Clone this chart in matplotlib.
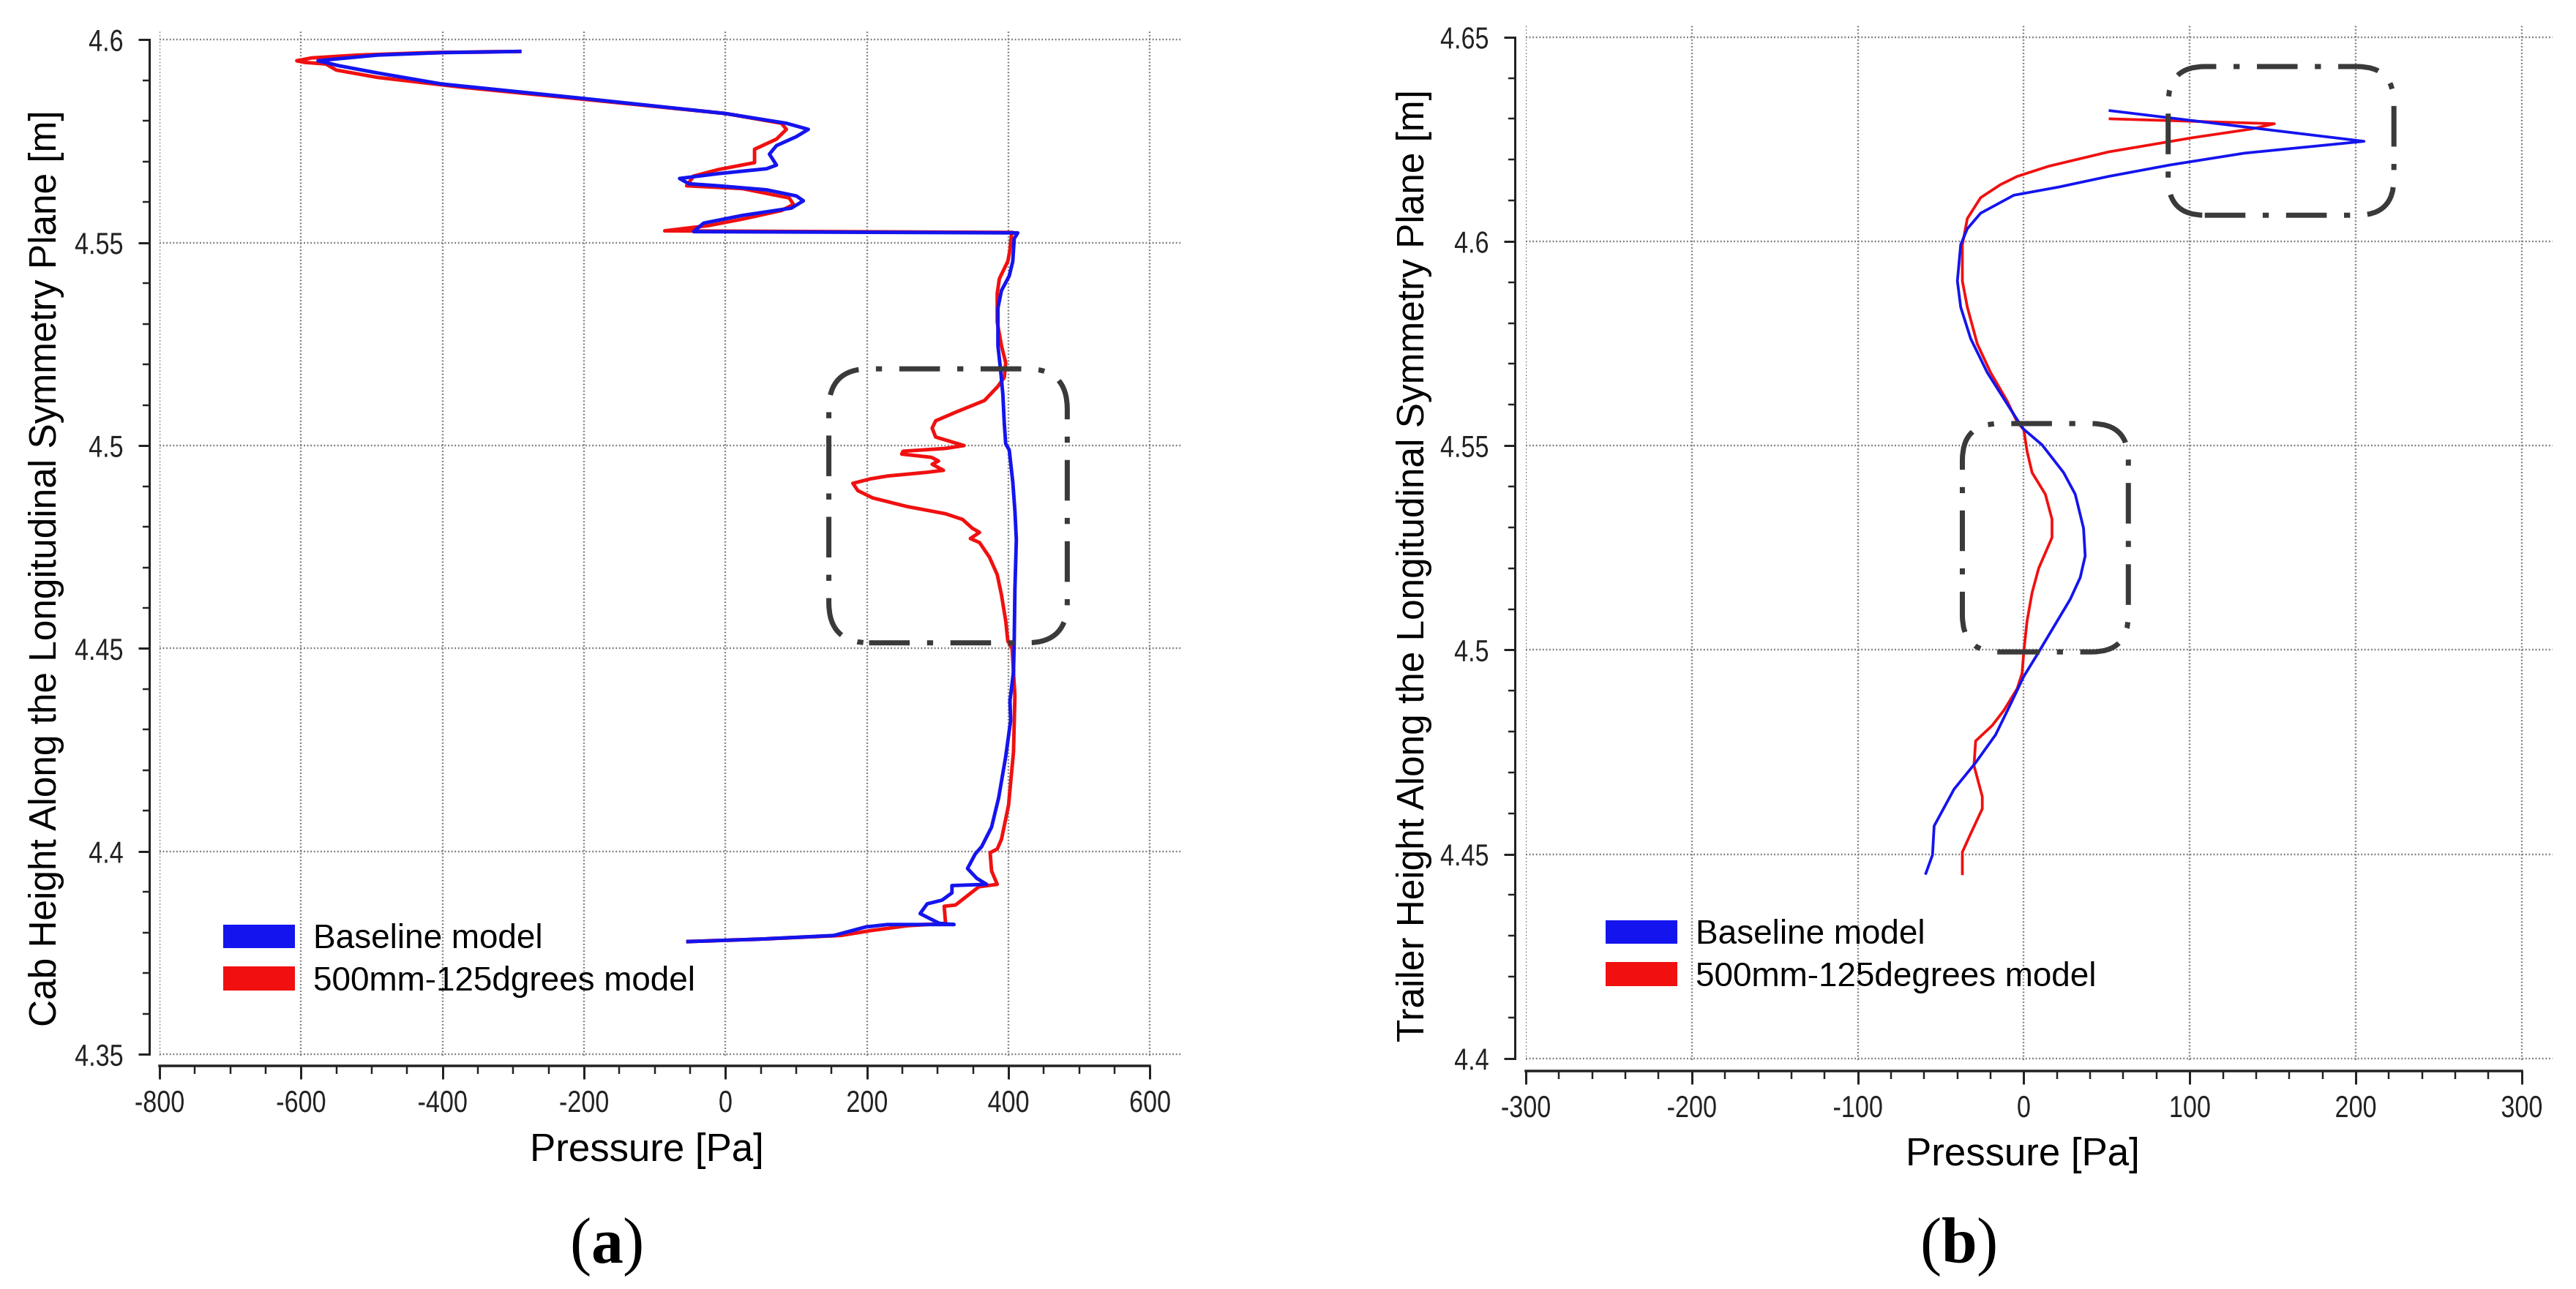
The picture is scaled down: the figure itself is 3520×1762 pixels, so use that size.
import matplotlib
matplotlib.use("Agg")
import matplotlib.pyplot as plt
from matplotlib import font_manager
from matplotlib.patches import FancyBboxPatch, Patch
from matplotlib.patheffects import AbstractPathEffect
from matplotlib.transforms import Affine2D
from matplotlib.ticker import MultipleLocator, FixedLocator, FuncFormatter

# ---------------- data ----------------
# (a) cab, baseline model
cab_base_p = [-291, -402, -492, -547, -576, -547, -492, -402, -200, 0, 86, 117, 100, 72, 62, 72, 58,
              -10, -65, -52, -10, 58, 100, 110, 93, 24, -31, -45, 413, 408, 406, 401, 390, 385, 385,
              389, 392, 394, 396, 401, 406, 409, 411, 409, 408, 407, 402, 403, 396, 386, 376, 362,
              353, 342, 355, 369, 320, 320, 306, 285, 275, 285, 302, 323, 229, 198, 153, 48, -53]
cab_base_h = [4.5971, 4.5968, 4.5962, 4.5953, 4.5948, 4.5936, 4.5918, 4.5891, 4.5855, 4.5818, 4.5794,
              4.5779, 4.5761, 4.5739, 4.5718, 4.5691, 4.5682, 4.5670, 4.5658, 4.5645, 4.5640, 4.5630,
              4.5615, 4.5603, 4.5585, 4.5567, 4.5548, 4.5527, 4.5524, 4.5510, 4.5454, 4.5418, 4.5382,
              4.5339, 4.5246, 4.5182, 4.5125, 4.5054, 4.5004, 4.4989, 4.4910, 4.4839, 4.4768, 4.4646,
              4.4518, 4.4443, 4.4371, 4.4323, 4.4234, 4.4132, 4.4060, 4.4012, 4.3994, 4.3958, 4.3934,
              4.3919, 4.3916, 4.3898, 4.3880, 4.3871, 4.3847, 4.3838, 4.3823, 4.3820, 4.3820, 4.3814,
              4.3793, 4.3784, 4.3778]
# (a) cab, 500mm-125 degrees model
cab_mod_p = [-291, -420, -520, -585, -606, -595, -565, -550, -492, -368, -200, 0, 79, 86, 72, 41, 41,
             -10, -45, -55, 24, 90, 96, 79, 24, -24, -86, 406, 404, 402, 399, 387, 384, 384, 390, 396,
             394, 385, 366, 325, 297, 292, 297, 337, 311, 251, 249, 291, 301, 292, 308, 284, 229, 205,
             180, 187, 208, 256, 311, 335, 349, 359, 346, 359, 373, 384, 390, 396, 399, 405, 409, 407,
             400, 390, 384, 374, 376, 384, 358, 325, 309, 311, 257, 205, 163, 48, -53]
cab_mod_h = [4.5971, 4.5968, 4.5962, 4.5955, 4.5948, 4.5944, 4.5940, 4.5925, 4.5907, 4.5882, 4.5853,
             4.5818, 4.5794, 4.5779, 4.5755, 4.5730, 4.5697, 4.5680, 4.5664, 4.5640, 4.5633, 4.5610,
             4.5594, 4.5579, 4.5558, 4.5542, 4.5529, 4.5525, 4.5518, 4.5482, 4.5454, 4.5411, 4.5375,
             4.5304, 4.5246, 4.5204, 4.5168, 4.5146, 4.5111, 4.5082, 4.5061, 4.5043, 4.5021, 4.5000,
             4.4993, 4.4986, 4.4979, 4.4971, 4.4962, 4.4954, 4.4939, 4.4934, 4.4925, 4.4918, 4.4907,
             4.4889, 4.4871, 4.4850, 4.4832, 4.4818, 4.4796, 4.4786, 4.4771, 4.4761, 4.4725, 4.4682,
             4.4632, 4.4568, 4.4518, 4.4500, 4.4383, 4.4245, 4.4114, 4.4030, 4.4006, 4.3997, 4.3952,
             4.3919, 4.3913, 4.3868, 4.3865, 4.3823, 4.3817, 4.3805, 4.3793, 4.3784, 4.3778]

# (b) trailer, baseline model
trl_base_p = [52, 205, 133, 88, 51, 21, -6, -26, -34, -38, -40, -38, -32, -22, -10, -2, 0, 11, 24,
              31, 36, 37, 34, 28, 18, 8, 0, -8, -17, -29, -42, -54, -55, -59]
trl_base_h = [4.6320, 4.6245, 4.6216, 4.6187, 4.6159, 4.6133, 4.6113, 4.6069, 4.6031, 4.5992,
              4.5903, 4.5839, 4.5762, 4.5679, 4.5602, 4.5551, 4.5540, 4.5502, 4.5434, 4.5381, 4.5298,
              4.5230, 4.5177, 4.5124, 4.5056, 4.4988, 4.4935, 4.4867, 4.4792, 4.4724, 4.4659, 4.4569,
              4.4498, 4.4453]
# (b) trailer, 500mm-125 degrees model
trl_mod_p = [52, 151, 137, 102, 51, 15, -4, -14, -26, -34, -37, -37, -34, -28, -20, -10, -4, 0, 2, 5,
             13, 17, 17, 9, 5, 2, 0, -1, -4, -12, -19, -29, -30, -25, -25, -32, -37, -37]
trl_mod_h = [4.6300, 4.6288, 4.6275, 4.6254, 4.6219, 4.6184, 4.6159, 4.6139, 4.6107, 4.6056,
             4.5992, 4.5903, 4.5839, 4.5749, 4.5679, 4.5609, 4.5558, 4.5539, 4.5486, 4.5434, 4.5381,
             4.5320, 4.5275, 4.5200, 4.5140, 4.5071, 4.4996, 4.4943, 4.4905, 4.4852, 4.4815, 4.4777,
             4.4717, 4.4641, 4.4611, 4.4550, 4.4505, 4.4452]

# highlighted regions [p_min, p_max, h_min, h_max]
cab_regions = [[146, 483, 4.4514, 4.5189]]
trl_regions = [[87, 223, 4.6064, 4.6428], [-37, 63, 4.4995, 4.5554]]

cab_xticks = [-800, -600, -400, -200, 0, 200, 400, 600]
cab_yticks = [4.35, 4.4, 4.45, 4.5, 4.55, 4.6]
trl_xticks = [-300, -200, -100, 0, 100, 200, 300]
trl_yticks = [4.4, 4.45, 4.5, 4.55, 4.6, 4.65]

series_labels = ["Baseline model", ["500mm-125dgrees model", "500mm-125degrees model"]]

# ---------------- fonts ----------------
names = {f.name for f in font_manager.fontManager.ttflist}
SANS = "Liberation Sans" if "Liberation Sans" in names else "DejaVu Sans"
NARROW = None
for cand in ("Liberation Sans Narrow", "Arial Narrow", "Nimbus Sans Narrow"):
    if cand in names:
        NARROW = cand
        break
TICKFONT = NARROW if NARROW else SANS
SQUEEZE = 1.0 if NARROW else 0.82   # emulate a narrow face when none is installed
SERIF = "Liberation Serif" if "Liberation Serif" in names else "DejaVu Serif"
plt.rcParams["font.family"] = [TICKFONT, "DejaVu Sans"]
plt.rcParams["lines.scale_dashes"] = False
plt.rcParams["mathtext.fontset"] = "custom"
plt.rcParams["mathtext.rm"] = SERIF
plt.rcParams["mathtext.bf"] = SERIF + ":bold"

BLUE = "#1414ee"
RED = "#f01010"
GRID = "#7a7a7a"
BOXC = "#3a3a3a"

W, H, DPI = 3520, 1762, 100
fig = plt.figure(figsize=(W / DPI, H / DPI), dpi=DPI)
PT = 72.0 / DPI  # points per pixel


class HSqueeze(AbstractPathEffect):
    """Compress glyphs horizontally around the centre or right edge of the string."""

    def __init__(self, sx, anchor="center"):
        super().__init__()
        self.sx = sx
        self.anchor = anchor

    def draw_path(self, renderer, gc, tpath, affine, rgbFace=None):
        ext = tpath.get_extents()
        cx = ext.x1 if self.anchor == "right" else 0.5 * (ext.x0 + ext.x1)
        t = Affine2D().translate(-cx, 0).scale(self.sx, 1).translate(cx, 0) + affine
        renderer.draw_path(gc, tpath, t, rgbFace)


def px_axes(x0, y0, x1, y1):
    return fig.add_axes([x0 / W, 1 - y1 / H, (x1 - x0) / W, (y1 - y0) / H])


def style(ax, xticks, yticks, xminor, yminor, xlim, ylim, off_px, tick_fs):
    ax.set_xlim(*xlim)
    ax.set_ylim(*ylim)
    ax.xaxis.set_major_locator(FixedLocator(xticks))
    ax.yaxis.set_major_locator(FixedLocator(yticks))
    ax.xaxis.set_minor_locator(MultipleLocator(xminor))
    ax.yaxis.set_minor_locator(MultipleLocator(yminor))
    ax.xaxis.set_major_formatter(FuncFormatter(lambda v, p: f"{int(round(v))}"))
    ax.yaxis.set_major_formatter(FuncFormatter(lambda v, p: f"{round(v, 3):g}"))
    for s in ("top", "right"):
        ax.spines[s].set_visible(False)
    ax.spines["left"].set_position(("outward", off_px * PT))
    ax.spines["bottom"].set_position(("outward", off_px * PT))
    ax.spines["left"].set_bounds(yticks[0], yticks[-1])
    ax.spines["bottom"].set_bounds(xticks[0], xticks[-1])
    ax.spines["left"].set_linewidth(3 * PT)
    ax.spines["bottom"].set_linewidth(3.5 * PT)
    for s in ("left", "bottom"):
        ax.spines[s].set_color("#222222")
    ax.tick_params(axis="x", which="major", direction="out", length=18 * PT, width=3 * PT,
                   pad=14 * PT, labelsize=tick_fs, colors="#222222")
    ax.tick_params(axis="x", which="minor", direction="out", length=11 * PT, width=2.5 * PT,
                   colors="#222222")
    ax.tick_params(axis="y", which="major", direction="out", length=15 * PT, width=3 * PT,
                   pad=20 * PT, labelsize=tick_fs, colors="#222222")
    ax.tick_params(axis="y", which="minor", direction="out", length=9 * PT, width=2.5 * PT,
                   colors="#222222")
    ax.grid(True, which="major", color=GRID, linewidth=2.4 * PT, linestyle=(0, (1.3, 2.0)))
    ax.set_axisbelow(True)


def squeeze_ticklabels(ax):
    if SQUEEZE == 1.0:
        return
    for lbl in ax.get_xticklabels():
        lbl.set_path_effects([HSqueeze(SQUEEZE, "center")])
    for lbl in ax.get_yticklabels():
        lbl.set_path_effects([HSqueeze(SQUEEZE, "right")])


def region_box(ax, reg, r_px):
    x0, x1, y0, y1 = reg
    xl, yl = ax.get_xlim(), ax.get_ylim()
    ppx = ax.bbox.width / (xl[1] - xl[0])
    ppy = ax.bbox.height / (yl[1] - yl[0])
    box = FancyBboxPatch((x0, y0), x1 - x0, y1 - y0,
                         boxstyle=f"round,pad=0,rounding_size={r_px / ppx}",
                         mutation_aspect=ppx / ppy,
                         facecolor="none", edgecolor=BOXC, linewidth=7 * PT,
                         linestyle=(0, (40, 17, 6, 17)), capstyle="butt", clip_on=False, zorder=5)
    ax.add_patch(box)


def legend(ax, labels, x_px, y_px):
    handles = [Patch(facecolor=BLUE, edgecolor="none"), Patch(facecolor=RED, edgecolor="none")]
    ax.legend(handles, labels, loc="upper left", bbox_to_anchor=(x_px / W, 1 - y_px / H),
              bbox_transform=fig.transFigure, frameon=False, borderpad=0, borderaxespad=0,
              handlelength=2.13, handleheight=0.72, handletextpad=0.55, labelspacing=0.3,
              prop={"family": SANS, "size": 33})


# ---------------- panel (a) ----------------
axL = px_axes(218, 42, 1615, 1443)
style(axL, cab_xticks, cab_yticks, 50, 0.01, (-800, 645), (4.3497, 4.6022), 14, 30)
axL.plot(cab_mod_p, cab_mod_h, color=RED, lw=3.5, solid_joinstyle="round", zorder=3)
axL.plot(cab_base_p, cab_base_h, color=BLUE, lw=3.5, solid_joinstyle="round", zorder=4)
for reg in cab_regions:
    region_box(axL, reg, 55)
legend(axL, [series_labels[0], series_labels[1][0]], 305, 1262)
axL.set_xlabel("Pressure [Pa]", family=SANS, fontsize=38)
axL.xaxis.set_label_coords(884 / W, 1 - 1587 / H, transform=fig.transFigure)
axL.xaxis.label.set_va("baseline")
axL.set_ylabel("Cab Height Along the Longitudinal Symmetry Plane [m]", family=SANS, fontsize=37,
               va="center", ha="center", rotation_mode="anchor")
axL.yaxis.set_label_coords(64 / W, 1 - 777 / H, transform=fig.transFigure)
fig.text(828 / W, 1 - 1726 / H, r"$(\mathbf{a})$", ha="center", va="baseline", fontsize=63)

# ---------------- panel (b) ----------------
axR = px_axes(2085, 34, 3488, 1449)
style(axR, trl_xticks, trl_yticks, 20, 0.01, (-300, 318.6), (4.3996, 4.653), 15, 30)
axR.plot(trl_mod_p, trl_mod_h, color=RED, lw=2.7, solid_joinstyle="round", zorder=3)
axR.plot(trl_base_p, trl_base_h, color=BLUE, lw=2.7, solid_joinstyle="round", zorder=4)
for reg in trl_regions:
    region_box(axR, reg, 50)
legend(axR, [series_labels[0], series_labels[1][1]], 2194, 1256)
axR.set_xlabel("Pressure [Pa]", family=SANS, fontsize=38)
axR.xaxis.set_label_coords(2764 / W, 1 - 1593 / H, transform=fig.transFigure)
axR.xaxis.label.set_va("baseline")
axR.set_ylabel("Trailer Height Along the Longitudinal Symmetry Plane [m]", family=SANS,
               fontsize=37, va="center", ha="center", rotation_mode="anchor")
axR.yaxis.set_label_coords(1932 / W, 1 - 773 / H, transform=fig.transFigure)
fig.text(2676 / W, 1 - 1726 / H, r"$(\mathbf{b})$", ha="center", va="baseline", fontsize=63)

fig.canvas.draw()
squeeze_ticklabels(axL)
squeeze_ticklabels(axR)

fig.savefig("out.png", dpi=DPI, facecolor="white")
